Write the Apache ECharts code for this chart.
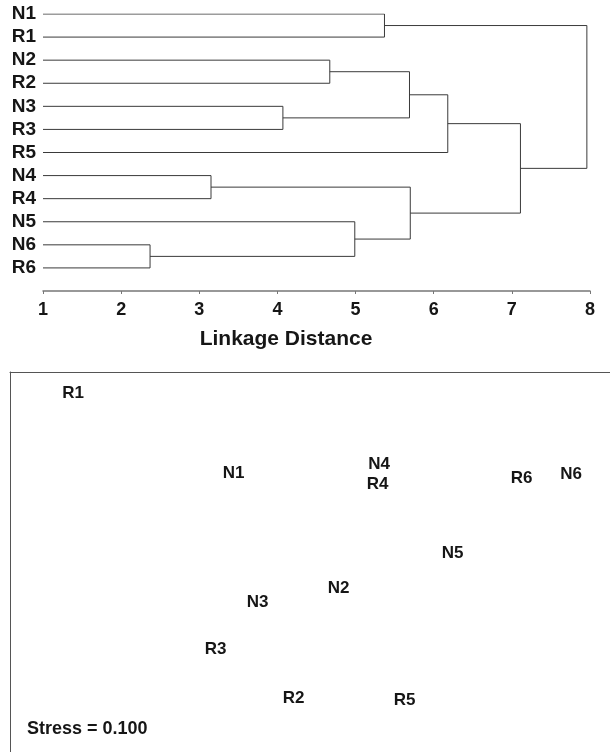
<!DOCTYPE html>
<html>
<head>
<meta charset="utf-8">
<script src="https://cdn.jsdelivr.net/npm/echarts@6/dist/echarts.min.js"></script>
<style>
html,body{margin:0;padding:0;background:#fff;}
#chart{width:610px;height:752px;}
</style>
</head>
<body>
<div id="chart"></div>
<script>
// ---- Dendrogram data ----
const leaves = ['N1','R1','N2','R2','N3','R3','R5','N4','R4','N5','N6','R6'];
// merges: children ids (0-11 leaves, 12+ previous merges) and linkage height
const mergeLeft   = [0, 2, 4, 13, 15, 7, 10, 9, 17, 16, 12];
const mergeRight  = [1, 3, 5, 14, 6, 8, 11, 18, 19, 20, 21];
const mergeHeight = [5.37, 4.67, 4.07, 5.69, 6.18, 3.15, 2.37, 4.99, 5.70, 7.11, 7.96];
const xTicks = [1, 2, 3, 4, 5, 6, 7, 8];
const xTitle = 'Linkage Distance';

// ---- MDS ordination data ----
const mdsNames = ['R1','N1','N4','R4','R6','N6','N5','N2','N3','R3','R2','R5'];
const mdsDim1  = [-1.58, -0.51, 0.46, 0.45, 1.41, 1.74, 0.95, 0.19, -0.35, -0.63, -0.11, 0.63];
const mdsDim2  = [1.33, 0.70, 0.77, 0.61, 0.66, 0.69, 0.07, -0.21, -0.32, -0.69, -1.08, -1.09];
const stressText = 'Stress = 0.100';

const FONT = '"Liberation Sans", Arial, sans-serif';
const INK = '#161616';
const nLeaf = leaves.length;
const nodeH = [], nodeY = [];
for (let i = 0; i < nLeaf; i++) { nodeH.push(xTicks[0]); nodeY.push(i); }
const dendroSeries = [];
for (let m = 0; m < mergeHeight.length; m++) {
  const a = mergeLeft[m], b = mergeRight[m], H = mergeHeight[m];
  dendroSeries.push({
    type: 'line', xAxisIndex: 0, yAxisIndex: 0, silent: true,
    symbol: 'none', animation: false,
    lineStyle: { color: '#3a3a3a', width: 1 },
    data: [[nodeH[a], nodeY[a]], [H, nodeY[a]], [H, nodeY[b]], [nodeH[b], nodeY[b]]]
  });
  nodeH.push(H);
  nodeY.push((nodeY[a] + nodeY[b]) / 2);
}

const chart = echarts.init(document.getElementById('chart'), null, { renderer: 'canvas' });
chart.setOption({
  animation: false,
  backgroundColor: '#fff',
  textStyle: { fontFamily: FONT },
  title: [
    {
      text: xTitle, left: 281, top: 324, textAlign: 'center',
      textStyle: { fontFamily: FONT, fontWeight: 'bold', fontSize: 21, color: INK }
    },
    {
      text: stressText, left: 22, top: 715,
      textStyle: { fontFamily: FONT, fontWeight: 'bold', fontSize: 18, color: INK }
    }
  ],
  grid: [
    { left: 43, right: 20, top: 14, height: 277 },
    { left: 10, right: 0, top: 372, bottom: 0 }
  ],
  xAxis: [
    {
      gridIndex: 0, type: 'value', min: 1, max: 8, interval: 1, position: 'bottom',
      axisLine: { onZero: false, lineStyle: { color: '#777', width: 1.5 } },
      axisTick: { show: true, length: 3, lineStyle: { color: '#777' } },
      splitLine: { show: false },
      axisLabel: { margin: 10, fontFamily: FONT, fontWeight: 'bold', fontSize: 18, color: INK,
                   formatter: v => xTicks.includes(v) ? String(v) : '' }
    },
    {
      gridIndex: 1, type: 'value', min: -2, max: 2, position: 'top',
      axisLine: { onZero: false, lineStyle: { color: '#555', width: 1 } },
      axisTick: { show: false }, axisLabel: { show: false }, splitLine: { show: false }
    }
  ],
  yAxis: [
    {
      gridIndex: 0, type: 'value', min: 0, max: nLeaf, interval: 1, inverse: true,
      axisLine: { show: false }, axisTick: { show: false }, splitLine: { show: false },
      axisLabel: { margin: 7, fontFamily: FONT, fontWeight: 'bold', fontSize: 19, color: INK,
                   formatter: v => leaves[v] || '' }
    },
    {
      gridIndex: 1, type: 'value', min: -1.5, max: 1.5, position: 'left',
      axisLine: { show: true, onZero: false, lineStyle: { color: '#555', width: 1 } },
      axisTick: { show: false }, axisLabel: { show: false }, splitLine: { show: false }
    }
  ],
  series: dendroSeries.concat([{
    type: 'scatter', xAxisIndex: 1, yAxisIndex: 1, silent: true,
    symbolSize: 0, animation: false,
    itemStyle: { opacity: 1 },
    data: mdsNames.map((n, i) => ({ name: n, value: [mdsDim1[i], mdsDim2[i]] })),
    label: {
      show: true, position: 'inside', formatter: p => p.name, opacity: 1,
      fontFamily: FONT, fontWeight: 'bold', fontSize: 17, color: INK,
      textBorderWidth: 0, textShadowBlur: 0
    }
  }])
});
</script>
</body>
</html>
